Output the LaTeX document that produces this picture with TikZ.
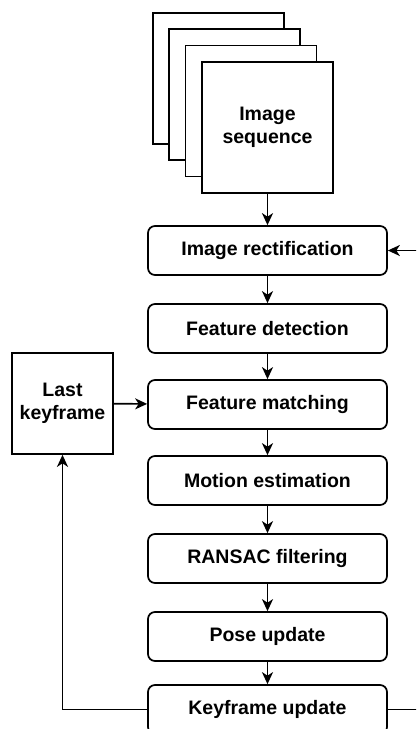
\documentclass[tikz,border=0pt]{standalone}
\usepackage{fontspec}
\setmainfont{Liberation Sans}
\usetikzlibrary{arrows.meta}
\begin{document}
\begin{tikzpicture}[x=1pt,y=-1pt,
  lbl/.style={font=\fontsize{19.5}{22.5}\selectfont\bfseries, align=center, text=black},
  stage/.style={lbl, draw, line width=1.7pt, rounded corners=7pt, minimum width=239pt, minimum height=49pt, inner sep=0pt, fill=white},
  sheet/.style={draw, line width=1.7pt, fill=white, minimum width=131pt, minimum height=131pt, inner sep=0pt},
  memo/.style={lbl, draw, line width=1.7pt, fill=white, minimum width=101pt, minimum height=101pt, inner sep=0pt},
  flow/.style={line width=1.7pt, -{Stealth[length=12pt,width=11pt,inset=3.5pt]}}]
\clip (0,0) rectangle (416,729);

% stacked image sheets
\node[sheet] (s1) at (218.3,78.3) {};
\node[sheet] (s2) at (234.7,94.7) {};
\node[sheet] (s3) at (251.1,111.1) {};
\node[sheet,lbl] (seq) at (267.5,127.5) {Image\\sequence};

% processing stages
\node[stage] (rect)   at (267.5,250.5) {Image rectification};
\node[stage] (det)    at (267.5,328.5) {Feature detection};
\node[stage] (match)  at (267.5,404.5) {Feature matching};
\node[stage] (motion) at (267.5,480.5) {Motion estimation};
\node[stage] (ransac) at (267.5,558.5) {RANSAC filtering};
\node[stage] (pose)   at (267.5,636.5) {Pose update};
\node[stage] (key)    at (267.5,709.5) {Keyframe update};

\node[memo] (last) at (62.5,403.5) {Last\\keyframe};

% main flow
\draw[flow] (seq) -- (rect);
\draw[flow] (rect) -- (det);
\draw[flow] (det) -- (match);
\draw[flow] (match) -- (motion);
\draw[flow] (motion) -- (ransac);
\draw[flow] (ransac) -- (pose);
\draw[flow] (pose) -- (key);
\draw[flow] (last) -- (match);

% feedback loops
\draw[flow] (key.west) -| (last.south);
\draw[flow] (key.east) -- ++(50,0) |- (rect.east);
\end{tikzpicture}
\end{document}
